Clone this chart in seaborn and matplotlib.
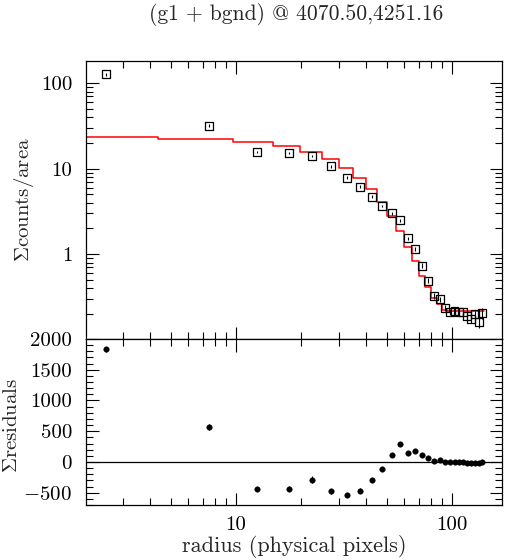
import numpy as np
import pandas as pd
import matplotlib
matplotlib.use("Agg")
import matplotlib.pyplot as plt
import matplotlib.ticker as mticker
import seaborn as sns

# ---------------- data ----------------
radius = [2.5, 7.5, 12.5, 17.5, 22.5, 27.5, 32.5, 37.5, 42.5, 47.5,
          52.5, 57.5, 62.5, 67.5, 72.5, 77.5, 82.5, 87.5, 92.5, 97.5,
          102.5, 107.5, 112.5, 117.5, 122.5, 127.5, 132.5, 137.5]
surf_bri = [127, 31.9, 15.7, 15.2, 14.0, 10.7, 7.87, 6.18, 4.72, 3.67,
            3.02, 2.50, 1.54, 1.15, 0.736, 0.49, 0.328, 0.298, 0.236, 0.213,
            0.217, 0.213, 0.209, 0.188, 0.173, 0.199, 0.163, 0.204]
surf_err = [4, 1.2, 0.5, 0.5, 0.45, 0.4, 0.25, 0.2, 0.18, 0.14,
            0.12, 0.1, 0.07, 0.06, 0.05, 0.035, 0.025, 0.022, 0.018, 0.016,
            0.016, 0.016, 0.016, 0.016, 0.016, 0.02, 0.025, 0.03]
model = [23.4, 22.1, 20.4, 18.3, 15.6, 13.0, 10.1, 7.80, 5.75, 4.09,
         2.78, 1.86, 1.21, 0.828, 0.553, 0.411, 0.311, 0.260, 0.223, 0.216,
         0.215, 0.215, 0.214, 0.214, 0.214, 0.214, 0.214, 0.214]
resid = [1833, 569, -444, -434, -288, -477, -542, -466, -298, -114,
         119, 293, 151, 184, 114, 60, 11, 27, 5, -5,
         0, 5, 0, -10, -15, -10, -25, 5]
resid_err = [45, 45, 35, 35, 55, 40, 30, 35, 30, 30,
             30, 30, 20, 25, 25, 25, 15, 15, 15, 15,
             15, 15, 15, 15, 15, 15, 20, 20]

title = "(g1 + bgnd) @ 4070.50,4251.16"
xlabel = "radius (physical pixels)"
ylabel_top = r"$\Sigma$counts/area"
ylabel_bot = r"$\Sigma$residuals"
xtick_vals = [10, 100]
ytick_top = [1, 10, 100]
ytick_bot = [-500, 0, 500, 1000, 1500, 2000]

# ---------------- style ----------------
sns.set_style("ticks")
plt.rcParams["font.family"] = ["cmr10", "DejaVu Serif"]
plt.rcParams["mathtext.fontset"] = "cm"
plt.rcParams["axes.formatter.use_mathtext"] = True
plt.rcParams["axes.unicode_minus"] = False

df = pd.DataFrame({"radius": radius, "surf": surf_bri, "err": surf_err,
                   "model": model, "resid": resid, "rerr": resid_err})

# step line for the model: steps at geometric midpoints between radii
r = np.asarray(radius, float)
m = np.asarray(model, float)
mids = np.sqrt(r[:-1] * r[1:])
left = r[0] / np.sqrt(r[1] / r[0])
right = r[-1] * np.sqrt(r[-1] / r[-2])
edges = np.concatenate([[left], mids, [right]])
step_x = np.repeat(edges, 2)[1:-1]
step_y = np.repeat(m, 2)
step_df = pd.DataFrame({"x": step_x, "y": step_y})

W, H = 507, 560
fig = plt.figure(figsize=(W / 100, H / 100), dpi=100)
ax1 = fig.add_axes([86 / W, 1 - 339 / H, 416 / W, 278 / H])
ax2 = fig.add_axes([86 / W, 1 - 505 / H, 416 / W, 166 / H])

# ---- top panel ----
ax1.set_xscale("log")
ax1.set_yscale("log")
sns.lineplot(data=step_df, x="x", y="y", ax=ax1, color="#ff0000",
             linewidth=1.1, sort=False, estimator=None, legend=False)
ax1.errorbar(df["radius"], df["surf"], yerr=df["err"], fmt="none",
             ecolor="black", elinewidth=0.8, capsize=0)
sns.scatterplot(data=df, x="radius", y="surf", ax=ax1, marker="s", s=32,
                facecolor="none", edgecolor="black", linewidth=0.9,
                legend=False, zorder=3)
ax1.set_xlim(2.02, 170)
ax1.set_ylim(0.102, 182)

# ---- bottom panel ----
ax2.set_xscale("log")
ax2.axhline(0, color="black", linewidth=0.9)
ax2.errorbar(df["radius"], df["resid"], yerr=df["rerr"], fmt="none",
             ecolor="black", elinewidth=0.8, capsize=0)
sns.scatterplot(data=df, x="radius", y="resid", ax=ax2, marker="o", s=16,
                color="black", edgecolor="black", linewidth=0.3,
                legend=False, zorder=3)
ax2.set_xlim(2.02, 170)
ax2.set_ylim(-700, 2000)

# ---- ticks ----
def fmt_num(v, pos=None):
    if v < 0:
        return r"$-%d$" % abs(v)
    return "%g" % v

for ax in (ax1, ax2):
    ax.tick_params(which="both", direction="in", top=True, right=True,
                   width=0.8, colors="black")
    ax.tick_params(which="major", length=9, labelsize=15, pad=10)
    ax.tick_params(which="minor", length=5)
    ax.xaxis.set_major_locator(mticker.FixedLocator(xtick_vals))
    ax.xaxis.set_minor_locator(mticker.LogLocator(base=10, subs=np.arange(2, 10)))
    ax.xaxis.set_major_formatter(mticker.FuncFormatter(fmt_num))
    ax.xaxis.set_minor_formatter(mticker.NullFormatter())
    for sp in ax.spines.values():
        sp.set_visible(True)
        sp.set_linewidth(0.9)
        sp.set_color("black")
    ax.set_xlabel("")
    ax.set_ylabel("")

ax1.yaxis.set_major_locator(mticker.FixedLocator(ytick_top))
ax1.yaxis.set_minor_locator(mticker.LogLocator(base=10, subs=np.arange(2, 10)))
ax1.yaxis.set_major_formatter(mticker.FuncFormatter(fmt_num))
ax1.yaxis.set_minor_formatter(mticker.NullFormatter())
ax1.tick_params(axis="x", labelbottom=False)

ax2.yaxis.set_major_locator(mticker.FixedLocator(ytick_bot))
ax2.yaxis.set_minor_locator(mticker.MultipleLocator(100))
ax2.yaxis.set_major_formatter(mticker.FuncFormatter(fmt_num))
ax2.tick_params(axis="x", pad=8)

ax1.set_ylabel(ylabel_top, fontsize=15)
ax1.yaxis.label.set_verticalalignment("center")
ax1.yaxis.set_label_coords((24 - 86) / 416, 0.5)

ax2.set_ylabel(ylabel_bot, fontsize=15)
ax2.yaxis.label.set_verticalalignment("center")
ax2.yaxis.set_label_coords((12 - 86) / 416, 0.48)

ax2.set_xlabel(xlabel, fontsize=16)
ax2.xaxis.label.set_verticalalignment("center")
ax2.xaxis.set_label_coords(0.5, (505 - 547) / 166)

fig.text(296 / W, 1 - 14 / H, title, ha="center", va="center", fontsize=15.5)

fig.savefig("out.png", dpi=100)
